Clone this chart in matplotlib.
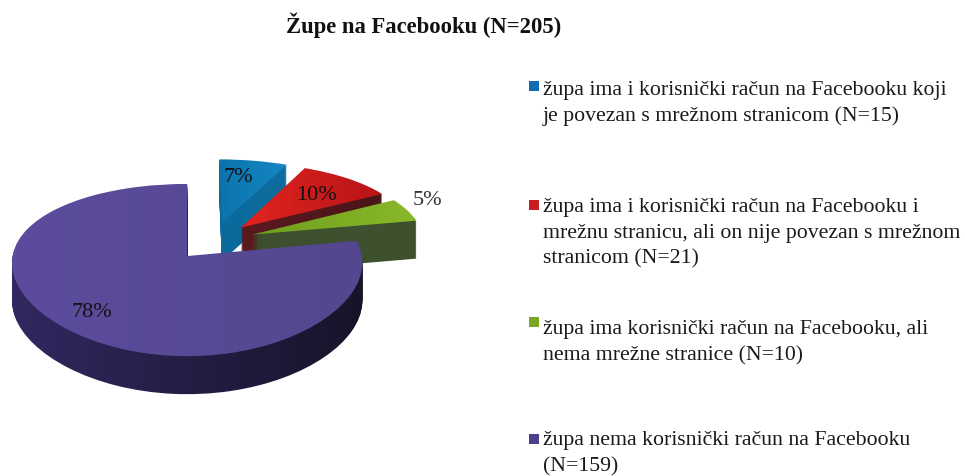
import numpy as np
import matplotlib
matplotlib.use("Agg")
import matplotlib.pyplot as plt
from matplotlib.transforms import Transform

title = "Župe na Facebooku (N=205)"
values = [7, 10, 5, 78]
pct_labels = ["7%", "10%", "5%", "78%"]
legend_lines = [
    ["župa ima i korisnički račun na Facebooku koji", "je povezan s mrežnom stranicom (N=15)"],
    ["župa ima i korisnički račun na Facebooku i", "mrežnu stranicu, ali on nije povezan s mrežnom", "stranicom (N=21)"],
    ["župa ima korisnički račun na Facebooku, ali", "nema mrežne stranice (N=10)"],
    ["župa nema korisnički račun na Facebooku", "(N=159)"],
]
legend_y = [91, 208, 330, 441]
marker_y = [87, 206, 323, 440]
pct_xy = [(238, 178), (316, 196), (428, 201), (92, 313)]
pct_colors = ["#111111", "#111111", "#333333", "#111111"]

# (left colour, right colour) of each slice
top_colors = [("#0b74ad", "#1587c4"), ("#e02420", "#b81418"), ("#6f9e1c", "#8ab82a"), ("#5d4c9e", "#54478f")]
wall_colors = [("#0a6a9c", "#0f6c9e"), ("#5a1a20", "#4a1518"), ("#3d4f2e", "#3f5230"), ("#30285f", "#17142a")]
legend_colors = ["#0f6cb0", "#c81e22", "#7aa824", "#4e3f8c"]

EXPLODE = 0.24
DEPTH = 38


class Tilt(Transform):
    # pie plane -> image pixels, with a little perspective
    input_dims = output_dims = 2
    is_separable = False

    def __init__(self, drop=0.0):
        super().__init__()
        self.drop = drop

    def transform_non_affine(self, xy):
        xy = np.asarray(xy, dtype=float)
        wy = 1 + 0.158 * xy[:, 1]
        wx = 1 + 0.08 * xy[:, 1]
        return np.column_stack([187 + 172 * (xy[:, 0] + 0.154) / wx, 242 - 79 * xy[:, 1] / wy + self.drop])


fig = plt.figure(figsize=(9.65, 4.77), dpi=100, facecolor="white")
ax = fig.add_axes([0, 0, 1, 1])


def draw_layer(drop, colors, z):
    wedges, _ = ax.pie(values, explode=[EXPLODE] * len(values), startangle=90, counterclock=False)
    for i, w in enumerate(wedges):
        w.set_transform(Tilt(drop) + ax.transData)
        w.set_visible(False)
        pts = w.get_path().transformed(Tilt(drop)).vertices
        grad = matplotlib.colors.LinearSegmentedColormap.from_list("g", colors[i])
        im = ax.imshow(np.linspace(0, 1, 64).reshape(1, -1), cmap=grad, aspect="auto", zorder=i * 100 + z,
                       extent=(pts[:, 0].min(), pts[:, 0].max(), pts[:, 1].max(), pts[:, 1].min()))
        im.set_clip_path(w)


for d in range(DEPTH, 0, -1):
    draw_layer(d, wall_colors, DEPTH - d)
draw_layer(0, top_colors, DEPTH)

ax.set_aspect("auto")
ax.set_xlim(0, 965)
ax.set_ylim(477, 0)
ax.axis("off")

serif = "Liberation Serif"
ax.text(424, 25, title, family=serif, weight="bold", fontsize=16.3, ha="center", va="center", color="#111111", zorder=900)
for lab, (x, y), c in zip(pct_labels, pct_xy, pct_colors):
    ax.text(x, y, lab, family=serif, fontsize=16, ha="center", va="center", color=c, zorder=900)

for lines, y0, my, c in zip(legend_lines, legend_y, marker_y, legend_colors):
    ax.plot([534], [my], marker="s", ms=6.5, color=c, mew=0, zorder=900)
    for k, line in enumerate(lines):
        ax.text(543, y0 + k * 25.5, line, family=serif, fontsize=15.7, ha="left", va="center", color="#1a1a1a", zorder=900)

fig.savefig("out.png", dpi=100)
